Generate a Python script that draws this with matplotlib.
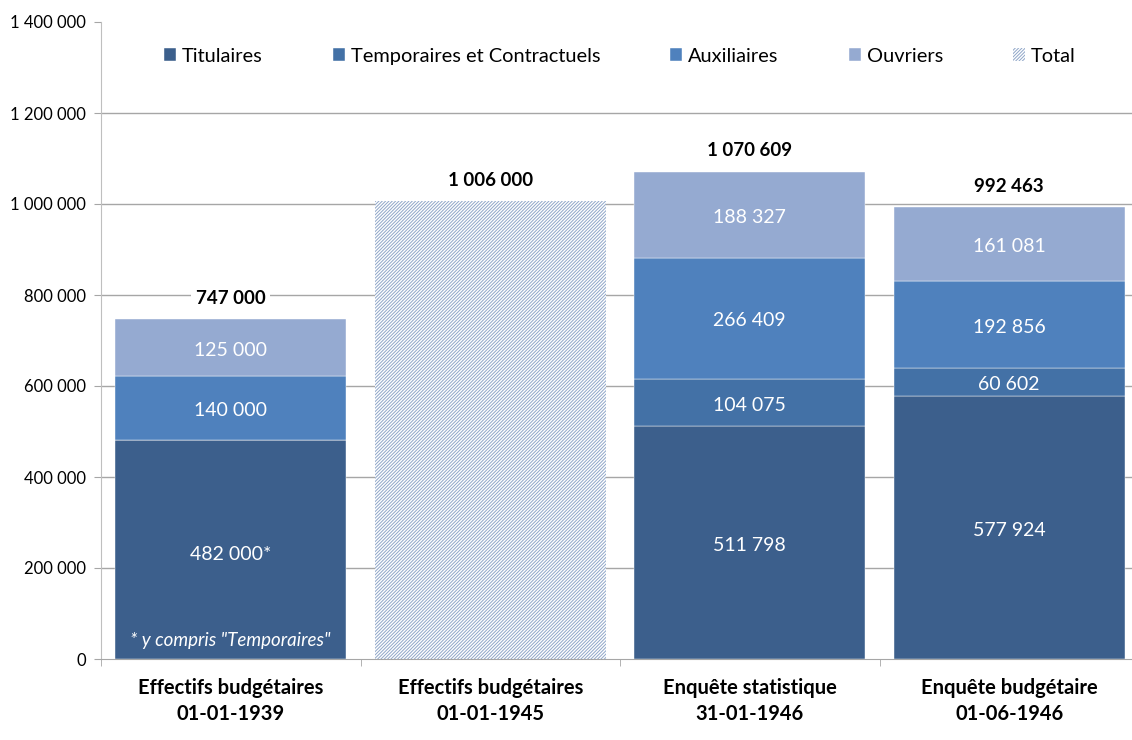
import matplotlib.pyplot as plt
import numpy as np

# data
categories = ["Effectifs budgétaires\n01-01-1939", "Effectifs budgétaires\n01-01-1945",
              "Enquête statistique\n31-01-1946", "Enquête budgétaire\n01-06-1946"]
titulaires = [482000, 0, 511798, 577924]
temporaires = [0, 0, 104075, 60602]
auxiliaires = [140000, 0, 266409, 192856]
ouvriers = [125000, 0, 188327, 161081]
total_only = [0, 1006000, 0, 0]
totals = [747000, 1006000, 1070609, 992463]
series_names = ["Titulaires", "Temporaires et Contractuels", "Auxiliaires", "Ouvriers"]
yticks = [0, 200000, 400000, 600000, 800000, 1000000, 1200000, 1400000]

colors = ["#3C5F8C", "#4371A6", "#4F81BD", "#95AAD1"]
hatch_color = "#8FA6C8"

plt.rcParams['font.family'] = ['Lato', 'DejaVu Sans']
plt.rcParams['hatch.linewidth'] = 0.7


def fmt(v):
    return f"{v:,}".replace(",", " ")


fig = plt.figure(figsize=(11.32, 7.4), dpi=100)
ax = fig.add_axes([101 / 1132, 81 / 740, 1038 / 1132, 637 / 740])

x = np.arange(len(categories))
width = 0.89
bottom = np.zeros(len(categories))
handles = []
for vals, name, col in zip([titulaires, temporaires, auxiliaires, ouvriers], series_names, colors):
    vals = np.array(vals)
    h = ax.bar(x, vals, width, bottom=bottom, color=col, edgecolor="white", linewidth=0.3,
               label=name, zorder=2)
    handles.append(h)
    for i, v in enumerate(vals):
        if v > 0:
            lab = fmt(v) + ("*" if i == 0 and name == "Titulaires" else "")
            ypos = bottom[i] + v / 2 - 6000
            if i == 0 and name == "Titulaires":
                ypos = 230000
            ax.text(x[i], ypos, lab, ha="center", va="center", color="white", fontsize=14, zorder=3)
    bottom += vals

h = ax.bar(x, total_only, width, color="white", edgecolor=hatch_color, hatch="//////////",
           linewidth=0, label="Total", zorder=2)
handles.append(h)

for i, t in enumerate(totals):
    ax.annotate(fmt(t), (x[i], t), xytext=(0, 9), textcoords="offset points",
                ha="center", va="bottom", fontsize=13.5, fontweight="bold", zorder=4,
                bbox=dict(boxstyle="square,pad=0.25", fc="white", ec="none"))

ax.text(x[0], 40000, '* y compris "Temporaires"', ha="center", va="center", color="white",
        fontsize=13.5, fontstyle="italic", zorder=3)

# gridlines
for yv in yticks[1:-1]:
    ax.axhline(yv, color="#A6A6A6", linewidth=1, zorder=1)

ax.set_ylim(0, 1400000)
ax.set_xlim(-0.5, 3.5)
ax.set_yticks(yticks)
ax.set_yticklabels([fmt(v) for v in yticks], fontsize=12)
ax.set_xticks(x)
ax.set_xticklabels(categories, fontsize=14.5, fontweight="bold", linespacing=1.35)
ax.set_xticks(np.arange(-0.5, 3.6, 1), minor=True)
ax.tick_params(axis="x", which="major", length=0, pad=14)
ax.tick_params(axis="x", which="minor", length=5, color="#A6A6A6")
ax.tick_params(axis="y", length=5, color="#A6A6A6", pad=6)

for s in ["top", "right"]:
    ax.spines[s].set_visible(False)
ax.spines["left"].set_color("#BFBFBF")
ax.spines["bottom"].set_color("#A6A6A6")

leg = ax.legend(handles=handles, loc="upper center", bbox_to_anchor=(0.5, 0.988), ncol=5,
                frameon=False, fontsize=14.4, handlelength=0.6, handleheight=0.6,
                handletextpad=0.3, columnspacing=3.5)

fig.savefig("out.png", dpi=100)
